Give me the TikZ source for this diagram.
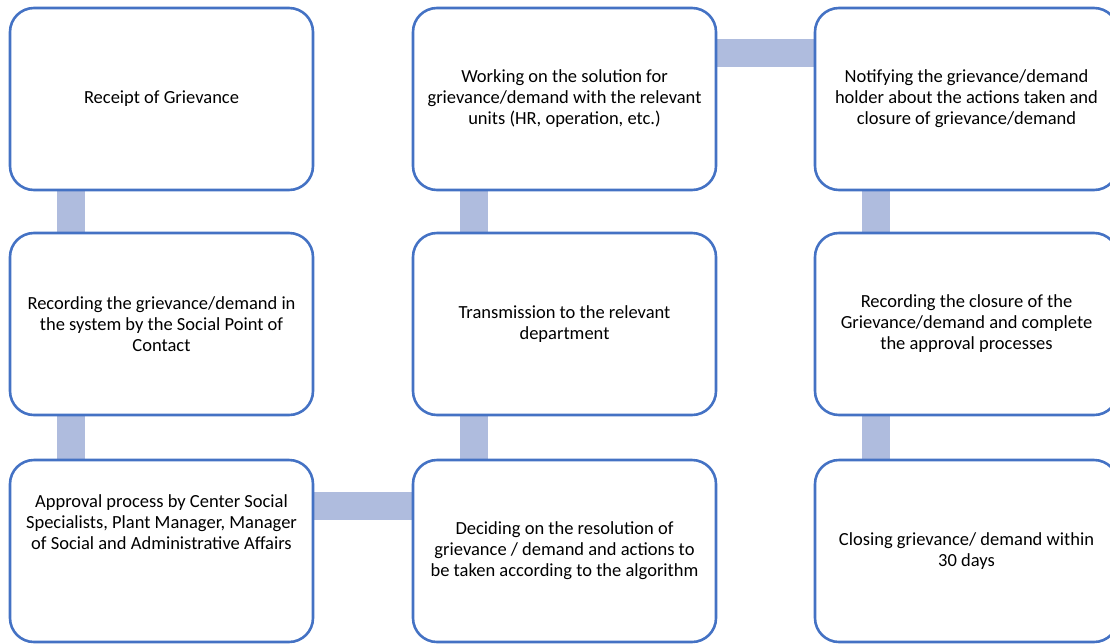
\documentclass[tikz,border=0pt]{standalone}
\usepackage{fontspec}
\setmainfont{Carlito}
\usetikzlibrary{backgrounds}
\definecolor{boxblue}{RGB}{68,114,196}
\definecolor{barblue}{RGB}{175,188,222}
\tikzset{
  stepbox/.style={draw=boxblue, line width=2.6pt, rounded corners=24pt, fill=white,
    minimum width=303pt, minimum height=182pt, align=center, inner sep=0pt,
    font=\fontsize{18.5}{21}\selectfont},
  bar/.style={draw=barblue, line width=28pt}
}
\begin{document}
\begin{tikzpicture}[x=1pt,y=-1pt]
\useasboundingbox (0,0) rectangle (1110,643);
% boxes
\node[stepbox] (receipt) at (161.5,99) {Receipt of Grievance};
\node[stepbox] (record) at (161.5,324) {Recording the grievance/demand in\\the system by the Social Point of\\Contact};
\node[stepbox] (approval) at (161.5,551) {Approval process by Center Social\\Specialists, Plant Manager, Manager\\of Social and Administrative Affairs\\[37pt]\mbox{}};
\node[stepbox] (decide) at (564.5,551) {Deciding on the resolution of\\grievance / demand and actions to\\be taken according to the algorithm};
\node[stepbox] (transmit) at (564.5,324) {Transmission to the relevant\\department};
\node[stepbox] (solution) at (564.5,99) {Working on the solution for\\grievance/demand with the relevant\\units (HR, operation, etc.)};
\node[stepbox] (notify) at (966.5,99) {Notifying the grievance/demand\\holder about the actions taken and\\closure of grievance/demand};
\node[stepbox] (closure) at (966.5,324) {Recording the closure of the\\Grievance/demand and complete\\the approval processes};
\node[stepbox] (closing) at (966.5,551) {Closing grievance/ demand within\\30 days};
% connecting bars (behind the boxes)
\begin{scope}[on background layer]
\draw[bar] ([xshift=62pt]receipt.south west) -- ([xshift=62pt]record.north west);
\draw[bar] ([xshift=62pt]record.south west) -- ([xshift=62pt]approval.north west);
\draw[bar] ([yshift=-47pt]approval.north east) -- ([yshift=-47pt]decide.north west);
\draw[bar] ([xshift=62pt]decide.north west) -- ([xshift=62pt]transmit.south west);
\draw[bar] ([xshift=62pt]transmit.north west) -- ([xshift=62pt]solution.south west);
\draw[bar] ([yshift=-46pt]solution.north east) -- ([yshift=-46pt]notify.north west);
\draw[bar] ([xshift=62pt]notify.south west) -- ([xshift=62pt]closure.north west);
\draw[bar] ([xshift=62pt]closure.south west) -- ([xshift=62pt]closing.north west);
\end{scope}
\end{tikzpicture}
\end{document}
